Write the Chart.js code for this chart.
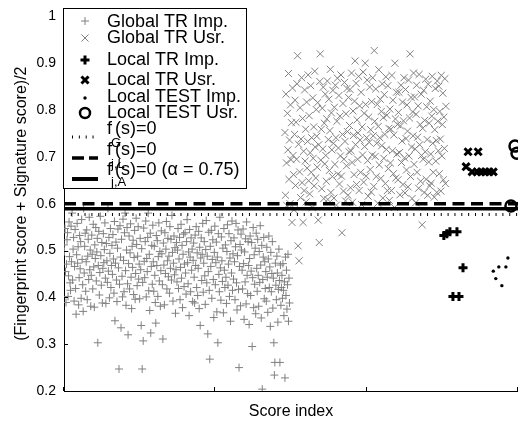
<!DOCTYPE html>
<html>
<head>
<meta charset="utf-8">
<script src="https://cdn.jsdelivr.net/npm/chart.js@4.4.0/dist/chart.umd.min.js"></script>
<style>
  html, body { margin: 0; padding: 0; background: #fff; }
  #wrap { width: 518px; height: 428px; }
</style>
</head>
<body>
<div id="wrap"><canvas id="chart" width="518" height="428"></canvas></div>
<script>
// axis setup
const xMax = 900;
const xStep = 300;
const yTickLabels = ['0.2', '0.3', '0.4', '0.5', '0.6', '0.7', '0.8', '0.9', '1'];

// Global TR Imp. (score index starts at 0)
const globalImpStart = 0;
const globalImp = [
  0.512,0.498,0.547,0.455,0.389,0.471,0.523,0.538,0.402,0.446,0.561,0.487,0.431,0.415,0.552,0.476,
  0.580,0.437,0.503,0.528,0.392,0.466,0.545,0.419,0.364,0.491,0.558,0.473,0.508,0.384,0.442,0.532,
  0.461,0.519,0.398,0.566,0.481,0.427,0.370,0.590,0.452,0.509,0.537,0.413,0.476,0.544,0.395,0.488,
  0.524,0.438,0.571,0.459,0.501,0.381,0.447,0.533,0.492,0.418,0.556,0.465,0.379,0.512,0.483,0.549,
  0.435,0.497,0.526,0.303,0.468,0.541,0.405,0.453,0.573,0.489,0.426,0.517,0.388,0.462,0.536,0.474,
  0.502,0.559,0.441,0.387,0.515,0.478,0.432,0.590,0.456,0.528,0.399,0.494,0.547,0.421,0.468,0.511,
  0.449,0.534,0.482,0.409,0.562,0.350,0.473,0.518,0.437,0.391,0.505,0.546,0.463,0.247,0.428,0.553,
  0.486,0.335,0.524,0.445,0.401,0.567,0.479,0.412,0.538,0.580,0.457,0.383,0.501,0.549,0.429,0.320,
  0.472,0.531,0.418,0.495,0.557,0.443,0.376,0.509,0.464,0.522,0.406,0.485,0.543,0.396,0.451,0.569,
  0.513,0.425,0.488,0.551,0.439,0.471,0.397,0.526,0.459,0.340,0.504,0.247,0.432,0.307,0.548,0.477,
  0.442,0.519,0.563,0.401,0.483,0.455,0.528,0.580,0.414,0.492,0.372,0.537,0.324,0.466,0.511,0.428,
  0.554,0.476,0.413,0.509,0.447,0.389,0.345,0.532,0.468,0.521,0.402,0.487,0.559,0.435,0.498,0.381,
  0.457,0.542,0.493,0.427,0.311,0.516,0.469,0.384,0.538,0.451,0.503,0.562,0.418,0.478,0.526,0.444,
  0.488,0.409,0.551,0.462,0.524,0.437,0.575,0.496,0.392,0.473,0.531,0.448,0.506,0.366,0.459,0.517,
  0.433,0.501,0.547,0.419,0.482,0.528,0.395,0.464,0.556,0.441,0.511,0.378,0.492,0.535,0.423,0.471,
  0.538,0.452,0.407,0.519,0.566,0.474,0.429,0.497,0.361,0.545,0.486,0.412,0.527,0.458,0.503,0.391,
  0.479,0.516,0.443,0.388,0.533,0.468,0.551,0.421,0.495,0.404,0.462,0.541,0.376,0.507,0.340,0.484,
  0.527,0.436,0.492,0.558,0.411,0.473,0.519,0.446,0.385,0.502,0.564,0.431,0.488,0.322,0.455,0.539,
  0.415,0.268,0.509,0.466,0.543,0.398,0.481,0.523,0.438,0.357,0.496,0.552,0.427,0.474,0.518,0.369,
  0.486,0.303,0.536,0.449,0.412,0.571,0.463,0.394,0.529,0.478,0.434,0.505,0.367,0.547,0.458,0.421,
  0.512,0.443,0.387,0.498,0.555,0.426,0.471,0.536,0.402,0.484,0.349,0.521,0.452,0.563,0.415,0.493,
  0.439,0.527,0.476,0.395,0.508,0.558,0.431,0.373,0.489,0.544,0.417,0.250,0.466,0.513,0.382,0.535,
  0.501,0.458,0.418,0.546,0.472,0.353,0.497,0.433,0.525,0.386,0.561,0.447,0.408,0.519,0.468,0.342,
  0.483,0.531,0.404,0.456,0.517,0.295,0.442,0.549,0.378,0.491,0.428,0.505,0.365,0.537,0.462,0.413,
  0.524,0.447,0.381,0.498,0.432,0.553,0.469,0.356,0.511,0.204,0.438,0.486,0.528,0.397,0.476,0.419,
  0.455,0.392,0.507,0.443,0.368,0.482,0.531,0.421,0.465,0.338,0.496,0.412,0.451,0.519,0.377,0.441,
  0.303,0.234,0.261,0.473,0.426,0.395,0.488,0.452,0.347,0.417,0.503,0.436,0.261,0.469,0.383,0.421,
  0.447,0.398,0.472,0.415,0.361,0.433,0.228,0.486,0.404,0.458,0.375,0.427,0.492,0.349,0.441,0.388
];

// Global TR Usr.
const globalUsrStart = 438;
const globalUsr = [
  0.752,0.618,0.834,0.687,0.596,0.793,0.715,0.878,0.652,0.736,0.600,0.811,0.694,0.773,0.560,0.847,
  0.703,0.662,0.587,0.748,0.821,0.639,0.774,0.695,0.856,0.916,0.510,0.727,0.478,0.668,0.805,0.613,
  0.738,0.869,0.645,0.782,0.560,0.712,0.628,0.843,0.691,0.759,0.604,0.817,0.676,0.733,0.875,0.649,
  0.788,0.621,0.709,0.852,0.667,0.741,0.592,0.826,0.697,0.764,0.638,0.883,0.721,0.655,0.801,0.744,
  0.678,0.816,0.565,0.726,0.517,0.861,0.920,0.693,0.759,0.632,0.804,0.717,0.849,0.611,0.772,0.685,
  0.834,0.703,0.648,0.781,0.862,0.609,0.737,0.823,0.671,0.756,0.887,0.624,0.794,0.715,0.658,0.842,
  0.729,0.612,0.806,0.684,0.853,0.741,0.597,0.776,0.868,0.663,0.719,0.831,0.642,0.787,0.702,0.875,
  0.659,0.538,0.748,0.814,0.627,0.695,0.859,0.733,0.606,0.792,0.681,0.846,0.754,0.618,0.827,0.711,
  0.767,0.844,0.634,0.713,0.879,0.688,0.603,0.798,0.746,0.662,0.819,0.905,0.726,0.857,0.641,0.779,
  0.695,0.751,0.872,0.628,0.809,0.736,0.667,0.838,0.598,0.764,0.704,0.881,0.646,0.793,0.722,0.900,
  0.812,0.659,0.741,0.864,0.692,0.616,0.785,0.731,0.849,0.673,0.758,0.625,0.818,0.704,0.869,0.745,
  0.637,0.927,0.776,0.701,0.845,0.658,0.729,0.812,0.601,0.765,0.886,0.683,0.741,0.823,0.654,0.797,
  0.724,0.856,0.612,0.784,0.697,0.833,0.748,0.643,0.871,0.716,0.789,0.628,0.852,0.675,0.761,0.607,
  0.802,0.687,0.759,0.628,0.874,0.713,0.821,0.664,0.747,0.592,0.900,0.781,0.655,0.838,0.706,0.769,
  0.651,0.795,0.838,0.709,0.619,0.766,0.853,0.688,0.734,0.817,0.641,0.777,0.869,0.698,0.623,0.844,
  0.739,0.672,0.811,0.755,0.636,0.864,0.702,0.783,0.920,0.658,0.827,0.721,0.611,0.796,0.745,0.879,
  0.684,0.828,0.717,0.602,0.791,0.853,0.667,0.742,0.809,0.633,0.876,0.726,0.769,0.648,0.834,0.703,
  0.555,0.761,0.695,0.842,0.624,0.778,0.711,0.866,0.652,0.807,0.737,0.618,0.855,0.689,0.772,0.638,
  0.819,0.706,0.644,0.787,0.872,0.729,0.667,0.801,0.614,0.758,0.846,0.691,0.735,0.624,0.862,0.776,
  0.713,0.851,0.664,0.797,0.738,0.627,0.874,0.702,0.769,0.836,0.651,0.785,0.718,0.867,0.643,0.808
];

// local training / test scores
const localImpX = [753, 759, 765, 779, 791, 771, 783];
const localImpY = [0.532, 0.536, 0.540, 0.540, 0.463, 0.402, 0.402];
const localUsrX = [801, 821, 797, 809, 819, 827, 835, 843, 851];
const localUsrY = [0.711, 0.711, 0.679, 0.668, 0.668, 0.668, 0.668, 0.668, 0.668];
const testImpX = [851, 856, 862, 868, 876, 880];
const testImpY = [0.456, 0.440, 0.465, 0.425, 0.465, 0.484];
const testUsrX = [894, 898, 886];
const testUsrY = [0.723, 0.708, 0.595];

// decision thresholds
const fGLevel = 0.577;
const fjLLevel = 0.600;
const fjALevel = 0.589;

const GRAY = 'rgb(128,128,128)';
const FONT = '"Liberation Sans", Arial, Helvetica, sans-serif';

const seq = (ys, start) => ys.map((y, i) => ({ x: start + i, y }));
const pairs = (xs, ys) => xs.map((x, i) => ({ x, y: ys[i] }));
const hline = (y) => [{ x: 0, y }, { x: xMax, y }];

const datasets = [
  { label: 'Local TEST Usr.', data: pairs(testUsrX, testUsrY), pointStyle: 'circle', pointRadius: 5.5,
    borderColor: '#000', backgroundColor: 'rgba(0,0,0,0)', borderWidth: 2.5, order: 0 },
  { label: 'f_j,A', data: hline(fjALevel), showLine: true, pointRadius: 0, borderColor: '#000',
    borderWidth: 3.5, order: 1 },
  { label: 'f_j,L', data: hline(fjLLevel), showLine: true, pointRadius: 0, borderColor: '#000',
    borderWidth: 3.5, borderDash: [12, 6.5], order: 1 },
  { label: 'f_G', data: hline(fGLevel), showLine: true, pointRadius: 0, borderColor: '#000',
    borderWidth: 3, borderDash: [1, 5.85], order: 1 },
  { label: 'Local TEST Imp.', data: pairs(testImpX, testImpY), pointStyle: 'circle', pointRadius: 1.7,
    borderColor: '#000', backgroundColor: '#000', borderWidth: 0, order: 2 },
  { label: 'Local TR Usr.', data: pairs(localUsrX, localUsrY), pointStyle: 'crossRot', pointRadius: 5,
    borderColor: '#000', borderWidth: 3, order: 2 },
  { label: 'Local TR Imp.', data: pairs(localImpX, localImpY), pointStyle: 'cross', pointRadius: 4.5,
    borderColor: '#000', borderWidth: 3, order: 2 },
  { label: 'Global TR Usr.', data: seq(globalUsr, globalUsrStart), pointStyle: 'crossRot', pointRadius: 5,
    borderColor: GRAY, borderWidth: 1, order: 3 },
  { label: 'Global TR Imp.', data: seq(globalImp, globalImpStart), pointStyle: 'cross', pointRadius: 4,
    borderColor: GRAY, borderWidth: 1, order: 3 }
];

// MATLAB style ticks pointing into the plot
const inwardTicks = {
  id: 'inwardTicks',
  afterDatasetsDraw(chart) {
    const ctx = chart.ctx;
    const { x, y } = chart.scales;
    const area = chart.chartArea;
    ctx.save();
    ctx.strokeStyle = '#000';
    ctx.lineWidth = 1;
    ctx.beginPath();
    y.ticks.forEach(t => {
      const py = Math.round(y.getPixelForValue(t.value)) + 0.5;
      ctx.moveTo(area.left, py);
      ctx.lineTo(area.left + 4, py);
    });
    x.ticks.forEach(t => {
      const px = Math.round(x.getPixelForValue(t.value)) - 0.5;
      ctx.moveTo(px, area.bottom);
      ctx.lineTo(px, area.bottom - 4);
    });
    ctx.stroke();
    ctx.restore();
  }
};

function drawMarker(ctx, style, x, y, r, color, lw) {
  ctx.save();
  ctx.strokeStyle = color;
  ctx.fillStyle = color;
  ctx.lineWidth = lw;
  ctx.beginPath();
  if (style === 'cross') {
    ctx.moveTo(x - r, y); ctx.lineTo(x + r, y);
    ctx.moveTo(x, y - r); ctx.lineTo(x, y + r);
    ctx.stroke();
  } else if (style === 'crossRot') {
    const d = r * Math.SQRT1_2;
    ctx.moveTo(x - d, y - d); ctx.lineTo(x + d, y + d);
    ctx.moveTo(x - d, y + d); ctx.lineTo(x + d, y - d);
    ctx.stroke();
  } else if (style === 'dot') {
    ctx.arc(x, y, r, 0, Math.PI * 2);
    ctx.fill();
  } else if (style === 'ring') {
    ctx.arc(x, y, r, 0, Math.PI * 2);
    ctx.stroke();
  }
  ctx.restore();
}

const legendPoints = [
  { text: 'Global TR Imp.', style: 'cross', r: 4, color: GRAY, lw: 1, my: 21, ty: 27 },
  { text: 'Global TR Usr.', style: 'crossRot', r: 5, color: GRAY, lw: 1, my: 38, ty: 43 },
  { text: 'Local TR Imp.', style: 'cross', r: 4.5, color: '#000', lw: 3, my: 60, ty: 65 },
  { text: 'Local TR Usr.', style: 'crossRot', r: 5, color: '#000', lw: 3, my: 80, ty: 85 },
  { text: 'Local TEST Imp.', style: 'dot', r: 1.7, color: '#000', lw: 1, my: 98, ty: 102 },
  { text: 'Local TEST Usr.', style: 'ring', r: 5, color: '#000', lw: 2.5, my: 113, ty: 118 }
];
const legendLines = [
  { sub: 'G', rest: '(s)=0', dash: [1, 5.85], lw: 3, my: 137, ty: 134, sy: 147 },
  { sub: 'j,L', rest: '(s)=0', dash: [12, 5], lw: 3.5, my: 158, ty: 155, sy: 168 },
  { sub: 'j,A', rest: '(s)=0 (\u03b1 = 0.75)', dash: [], lw: 4, my: 179, ty: 175, sy: 186 }
];

const boxLegend = {
  id: 'boxLegend',
  afterDraw(chart) {
    const ctx = chart.ctx;
    ctx.save();
    ctx.fillStyle = '#fff';
    ctx.strokeStyle = '#000';
    ctx.lineWidth = 1;
    ctx.fillRect(63.5, 8.5, 183, 180);
    ctx.strokeRect(63.5, 8.5, 183, 180);
    ctx.fillStyle = '#000';
    ctx.textBaseline = 'alphabetic';
    ctx.textAlign = 'left';
    ctx.font = '18px ' + FONT;
    legendPoints.forEach(e => {
      drawMarker(ctx, e.style, 85, e.my, e.r, e.color, e.lw);
      ctx.fillStyle = '#000';
      ctx.fillText(e.text, 107, e.ty);
    });
    legendLines.forEach(e => {
      ctx.save();
      ctx.strokeStyle = '#000';
      ctx.lineWidth = e.lw;
      ctx.setLineDash(e.dash);
      ctx.beginPath();
      ctx.moveTo(72, e.my);
      ctx.lineTo(98, e.my);
      ctx.stroke();
      ctx.restore();
      ctx.font = '18px ' + FONT;
      ctx.fillText('f', 107, e.ty);
      ctx.fillText(e.rest, 115, e.ty);
      ctx.font = '13px ' + FONT;
      ctx.fillText(e.sub, 111, e.sy);
    });
    ctx.restore();
  }
};

new Chart(document.getElementById('chart'), {
  type: 'scatter',
  data: { datasets },
  options: {
    responsive: false,
    animation: false,
    events: [],
    layout: { autoPadding: false, padding: { left: 0, right: 0, top: 10, bottom: 0 } },
    plugins: {
      legend: { display: false },
      tooltip: { enabled: false }
    },
    scales: {
      x: {
        type: 'linear',
        min: 0,
        max: xMax,
        afterFit: (scale) => { scale.height = 37; },
        ticks: { stepSize: xStep, display: false },
        grid: { drawOnChartArea: false, drawTicks: false },
        border: { display: true, color: '#000', width: 1 },
        title: {
          display: true,
          text: 'Score index',
          color: '#000',
          font: { family: FONT, size: 16 },
          padding: { top: 0, bottom: 7 }
        }
      },
      y: {
        type: 'linear',
        min: 0.2,
        max: 1,
        afterFit: (scale) => { scale.width = 64; },
        ticks: {
          stepSize: 0.1,
          color: '#000',
          padding: 8,
          font: { family: FONT, size: 14 },
          callback: (value, index) => yTickLabels[index]
        },
        grid: { drawOnChartArea: false, drawTicks: false },
        border: { display: true, color: '#000', width: 1 },
        title: {
          display: true,
          text: '(Fingerprint score + Signature score)/2',
          color: '#000',
          font: { family: FONT, size: 16 },
          padding: { top: 12, bottom: 0 }
        }
      }
    }
  },
  plugins: [inwardTicks, boxLegend]
});
</script>
</body>
</html>
